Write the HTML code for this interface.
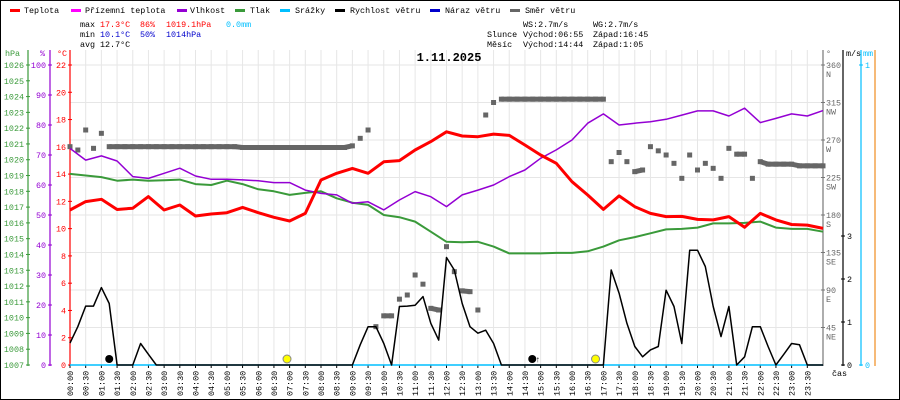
<!DOCTYPE html>
<html><head><meta charset="utf-8">
<style>
html,body{margin:0;padding:0;background:#fff;}
svg{display:block;}
text{font-family:"Liberation Mono",monospace;font-size:8.4px;}
</style></head>
<body>
<svg id="chart" width="900" height="400" viewBox="0 0 900 400" xmlns="http://www.w3.org/2000/svg">
<rect x="0.5" y="0.5" width="899" height="399" fill="#fff" stroke="#000"/>
<g id="grid"></g>
<g id="legend">
 <rect x="10" y="9" width="10" height="3" fill="#f00"/><text x="24" y="13">Teplota</text>
 <rect x="71" y="9" width="10" height="3" fill="#f0f"/><text x="85" y="13">Přízemní teplota</text>
 <rect x="177" y="9" width="10" height="3" fill="#9400d3"/><text x="190" y="13">Vlhkost</text>
 <rect x="235" y="9" width="10" height="3" fill="#3a9a3a"/><text x="250" y="13">Tlak</text>
 <rect x="280" y="9" width="10" height="3" fill="#00bfff"/><text x="295" y="13">Srážky</text>
 <rect x="335" y="9" width="10" height="3" fill="#000"/><text x="350" y="13">Rychlost větru</text>
 <rect x="430" y="9" width="10" height="3" fill="#00c"/><text x="445" y="13">Náraz větru</text>
 <rect x="510" y="9" width="10" height="3" fill="#666"/><text x="525" y="13">Směr větru</text>
</g>
<g id="stats">
 <text x="80" y="27">max</text><text x="100" y="27" fill="#f00">17.3°C</text><text x="140" y="27" fill="#f00">86%</text><text x="166" y="27" fill="#f00">1019.1hPa</text><text x="226" y="27" fill="#00bfff">0.0mm</text>
 <text x="80" y="37">min</text><text x="100" y="37" fill="#00c">10.1°C</text><text x="140" y="37" fill="#00c">50%</text><text x="166" y="37" fill="#00c">1014hPa</text>
 <text x="80" y="47">avg</text><text x="100" y="47">12.7°C</text>
 <text x="523" y="27">WS:2.7m/s</text><text x="593" y="27">WG:2.7m/s</text>
 <text x="487" y="37">Slunce</text><text x="523" y="37">Východ:06:55</text><text x="593" y="37">Západ:16:45</text>
 <text x="487" y="47">Měsíc</text><text x="523" y="47">Východ:14:44</text><text x="593" y="47">Západ:1:05</text>
</g>
<text x="449" y="61" text-anchor="middle" style="font-size:12px;font-weight:bold">1.11.2025</text>
<g id="axes"></g>
<g id="series"></g>
</svg>
<script>
const temperature=[11.37,11.98,12.15,11.4,11.5,12.35,11.37,11.73,10.93,11.07,11.17,11.56,11.17,10.83,10.56,11.12,13.57,14.06,14.42,14.06,14.9,14.99,15.77,16.38,17.1,16.79,16.74,16.93,16.84,16.13,15.4,14.79,13.44,12.47,11.41,12.4,11.61,11.12,10.88,10.9,10.68,10.64,10.88,10.1,11.12,10.64,10.3,10.26,10.02];
const humidity=[72.2,68.3,69.7,68,62.8,62.2,63.9,65.6,63,61.9,61.9,61.7,61.4,60.8,60.8,58.3,57.2,56.7,53.9,54.4,51.7,55,57.8,56.1,52.8,56.7,58.3,60,62.8,65,68.9,71.7,75,80.6,83.7,80,80.6,81.1,81.9,83.3,84.7,84.7,83,85.6,80.8,82.2,83.7,83,84.8];
const pressure=[1019.1,1019.0,1018.9,1018.67,1018.74,1018.67,1018.7,1018.74,1018.46,1018.4,1018.67,1018.46,1018.13,1018.0,1017.77,1017.9,1018.0,1017.56,1017.28,1017.14,1016.5,1016.36,1016.08,1015.44,1014.8,1014.78,1014.8,1014.5,1014.07,1014.07,1014.07,1014.1,1014.1,1014.2,1014.5,1014.9,1015.1,1015.34,1015.59,1015.62,1015.7,1015.97,1015.97,1016.0,1016.08,1015.7,1015.62,1015.62,1015.44];
const windSpeed=[0.51,0.89,1.37,1.37,1.8,1.43,0,0,0,0.5,0.25,0,0,0,0,0,0,0,0,0,0,0,0,0,0,0,0,0,0,0,0,0,0,0,0,0,0,0.47,0.89,0.89,0.5,0,1.36,1.37,1.39,1.59,0.97,0.58,2.5,2.21,1.43,0.89,0.74,0.81,0.5,0,0,0,0,0,0,0,0,0,0,0,0,0,0,2.21,1.67,0.97,0.43,0.19,0.35,0.43,1.74,1.36,0.5,2.67,2.67,2.29,1.36,0.66,1.36,0,0.19,0.89,0.89,0.43,0,0.25,0.5,0.47,0,0,0];
const windDir=[262,258,282,260,278,262,262,262,262,262,262,262,262,262,262,262,262,262,262,262,262,262,261,261,261,261,261,261,261,261,261,261,261,261,261,261,263,272,282,46,59,59,79,84,108,97,68,66,142,112,89,88,66,300,315,319,319,319,319,319,319,319,319,319,319,319,319,319,319,244,255,244,232,234,262,257,252,242,224,252,234,242,236,224,260,253,253,224,244,241,241,241,241,239,239,239,239];
const timeLabels=[];for(let h=0;h<24;h++){for(const m of ["00","30"]){timeLabels.push((h<10?"0":"")+h+":"+m);}}
const tempTicks=[0,2,4,6,8,10,12,14,16,18,20,22];
const humTicks=[0,10,20,30,40,50,60,70,80,90,100];
const presTicks=[1007,1008,1009,1010,1011,1012,1013,1014,1015,1016,1017,1018,1019,1020,1021,1022,1023,1024,1025,1026];
const dirTicks=[45,90,135,180,225,270,315,360];
const dirNames=["NE","E","SE","S","SW","W","NW","N"];
const speedTicks=[0,1,2,3];

const NS="http://www.w3.org/2000/svg";
const X0=70,X1=823,Y0=365,YT=65;
const xH=h=>X0+(X1-X0)*h/24;
const yT=v=>Y0-(Y0-YT)*v/22;
const yH=v=>Y0-(Y0-YT)*v/100;
const yP=v=>Y0-(Y0-YT)*(v-1007)/19;
const yD=v=>Y0-(Y0-YT)*v/360;
const yS=v=>Y0-43*v;
const yM=v=>Y0-(Y0-YT)*v;
function el(tag,attrs,parent,txt){const e=document.createElementNS(NS,tag);for(const k in attrs)e.setAttribute(k,attrs[k]);if(txt!==undefined)e.textContent=txt;parent.appendChild(e);return e;}
const grid=document.getElementById('grid'),axes=document.getElementById('axes'),ser=document.getElementById('series');
for(let i=0;i<=48;i++){const x=xH(i/2);const l=el('line',{x1:x,x2:x,y1:50,y2:Y0,stroke:'#e6e6e6','stroke-width':1},grid);

}
for(let k=1;k<=8;k++){const y=yD(45*k);const l=el('line',{x1:X0,x2:X1,y1:y,y2:y,stroke:'#e6e6e6','stroke-width':1},grid);

}
function vaxis(x,color,ticks,yf,fmt,side,name,title,tx){
 const g=el('g',{},axes);
 
 
 el('line',{x1:x,x2:x,y1:50,y2:Y0+1,stroke:color,'stroke-width':1.2},g);
 el('text',{x:tx,y:56,fill:color},g,title);
 ticks.forEach((t,i)=>{const y=yf(t);el('line',{x1:x-2,x2:x+2,y1:y,y2:y,stroke:color},g);
  const lab=el('text',{x:side<0?x-4:x+4,y:y+3,fill:color,'text-anchor':side<0?'end':'start'},g,fmt(t,i));
  
  });
}
vaxis(28,'#3a9a3a',presTicks,yP,t=>t,-1,'pressure-axis','hPa',5);
vaxis(50,'#9400d3',humTicks,yH,t=>t,-1,'humidity-axis','%',40);
vaxis(70,'#f00',tempTicks,yT,t=>t,-1,'temperature-axis','°C',57);
vaxis(843,'#000',speedTicks,yS,t=>t,1,'wind-speed-axis','m/s',846);
vaxis(861,'#00bfff',[0,1],yM,t=>t,1,'rain-axis','mm',863);
(function(){const g=el('g',{},axes);
 
 
 el('line',{x1:823,x2:823,y1:50,y2:Y0+1,stroke:'#777','stroke-width':1.2},g);
 el('text',{x:826,y:56,fill:'#666'},g,'°');
 dirTicks.forEach((t,i)=>{const y=yD(t);el('line',{x1:821,x2:825,y1:y,y2:y,stroke:'#777'},g);
  el('text',{x:826,y:y+3,fill:'#666'},g,t);el('text',{x:826,y:y+12,fill:'#666'},g,dirNames[i]);});
})();
const orange=el('line',{x1:875,x2:875,y1:50,y2:Y0+1,stroke:'#f08c1e','stroke-width':1.2},axes);


timeLabels.forEach((t,i)=>{const x=xH(i/2);el('line',{x1:x,x2:x,y1:Y0,y2:Y0+3,stroke:'#000'},axes);
 const lab=el('text',{transform:`translate(${x+3},${Y0+31}) rotate(-90)`},axes,t);
 
 });
el('text',{x:832,y:376},axes,'čas');
const rain=el('line',{x1:X0,x2:X1,y1:Y0,y2:Y0,stroke:'#00bfff','stroke-width':1.5},ser);


(function(){const g=el('g',{fill:'#666'},ser);
 
 
 const step=24/(windDir.length-1);
 windDir.forEach((d,i)=>{const x=xH(i*step),y=yD(d);
  if(i>0&&Math.abs(windDir[i-1]-d)<4){el('line',{x1:xH((i-1)*step),x2:x,y1:yD(windDir[i-1]),y2:y,stroke:'#666','stroke-width':5},g);}
  const r=el('rect',{x:x-2.5,y:y-2.5,width:5,height:5},g);
  
  });
})();
function line(arr,yf,color,w,name){const step=24/(arr.length-1);
 const pts=arr.map((v,i)=>xH(i*step).toFixed(1)+','+yf(v).toFixed(1)).join(' ');
 const p=el('polyline',{points:pts,fill:'none',stroke:color,'stroke-width':w,'stroke-linejoin':'round'},ser);
 
 }
line(pressure,yP,'#3a9a3a',2,'pressure-line');
line(humidity,yH,'#9400d3',1.5,'humidity-line');
line(temperature,yT,'#f00',3,'temperature-line');
line(windSpeed,yS,'#000',1.5,'wind-speed-line');
const sr=el('circle',{cx:xH(6+55/60),cy:359,r:4,fill:'#ff0',stroke:'#888'},ser);


const ss=el('circle',{cx:xH(16.75),cy:359,r:4,fill:'#ff0',stroke:'#888'},ser);


const mr=el('circle',{cx:xH(14+44/60),cy:359,r:4,fill:'#000'},ser);


el('text',{x:xH(14+44/60)+3,y:362,'font-size':'10px'},ser,'↑');
const ms=el('circle',{cx:xH(1+15/60),cy:359,r:4,fill:'#000'},ser);


</script>
</body></html>
